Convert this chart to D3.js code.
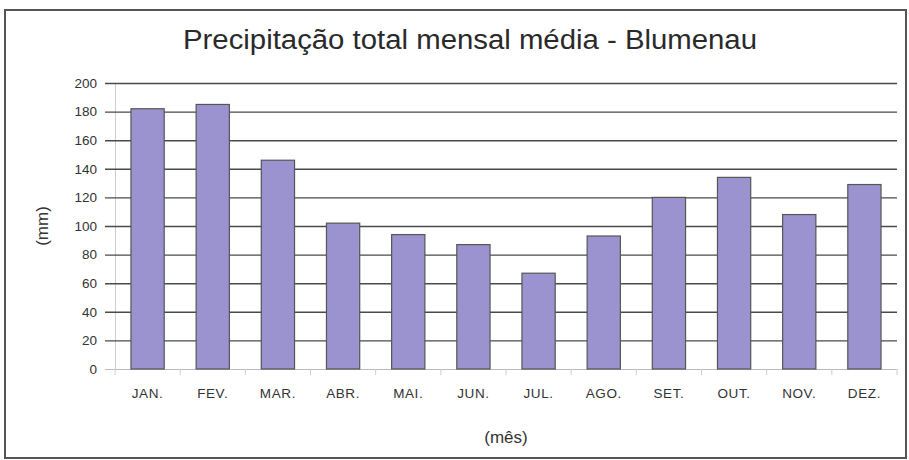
<!DOCTYPE html>
<html><head><meta charset="utf-8">
<script src="https://cdn.jsdelivr.net/npm/d3@7"></script>
<style>body{margin:0;background:#fff;} text{font-family:"Liberation Sans",Arial,sans-serif;}</style>
</head><body>
<svg id="c" width="909" height="460"></svg>
<script>
const title = "Precipitação total mensal média - Blumenau";
const months = ["JAN.","FEV.","MAR.","ABR.","MAI.","JUN.","JUL.","AGO.","SET.","OUT.","NOV.","DEZ."];
const precip = [182,185,146,102,94,87,67,93,120,134,108,129];
const yTicks = [0,20,40,60,80,100,120,140,160,180,200];
const yLabel = "(mm)";
const xLabel = "(mês)";

const svg = d3.select("#c");
const W = 909, H = 460;
const m = {left:115, right:12, top:83, bottom:91};
const x = d3.scaleBand().domain(months).range([m.left, W - m.right]).paddingInner(0.49).paddingOuter(0.245);
const y = d3.scaleLinear().domain([0,200]).range([H - m.bottom, m.top]);

// frame
svg.append("rect").attr("x",5).attr("y",10).attr("width",901).attr("height",448)
  .attr("fill","#fff").attr("stroke","#555").attr("stroke-width",2);

// title
svg.append("text").attr("x",470).attr("y",49).attr("text-anchor","middle")
  .attr("font-size",27).attr("fill","#2a2a2a").attr("textLength",574).attr("lengthAdjust","spacingAndGlyphs")
  .text(title);

// gridlines + y axis
const yAxis = d3.axisLeft(y).tickValues(yTicks).tickSize(-(W - m.right - m.left)).tickPadding(8);
const gy = svg.append("g").attr("transform",`translate(${m.left},0)`).call(yAxis);
gy.select(".domain").attr("stroke","#ccc");
gy.selectAll(".tick line").attr("stroke","#4a4a4a").attr("stroke-width",1.4).attr("x1",-10)
  .filter(d=>d===0).attr("stroke","#bbb").attr("stroke-width",1);
gy.selectAll(".tick text").attr("font-size",13.5).attr("fill","#333").attr("x",-18);

// x axis
const xb = d3.scaleLinear().domain([0,12]).range([m.left, W - m.right]);
const gx = svg.append("g").attr("transform",`translate(0,${y(0)})`);
gx.selectAll("line.bd").data(d3.range(0,13)).join("line").attr("class","bd")
  .attr("x1",d=>xb(d)).attr("x2",d=>xb(d)).attr("y1",0).attr("y2",6).attr("stroke","#ccc");
const xAxis = d3.axisBottom(x).tickSize(0).tickPadding(19);
const gxa = svg.append("g").attr("transform",`translate(0,${y(0)})`).call(xAxis);
gxa.select(".domain").remove();
gxa.selectAll(".tick text").attr("font-size",13.5).attr("fill","#333").attr("letter-spacing","0.6");

// bars
svg.append("g").selectAll("rect").data(precip).join("rect")
  .attr("x",(d,i)=>x(months[i])).attr("width",x.bandwidth())
  .attr("y",d=>y(d)).attr("height",d=>y(0)-y(d))
  .attr("fill","#9a93cf").attr("stroke","#555").attr("stroke-width",1.2);

// axis titles
svg.append("text").attr("transform",`translate(48,${(y(0)+y(200))/2}) rotate(-90)`)
  .attr("text-anchor","middle").attr("font-size",17).attr("fill","#333").text(yLabel);
svg.append("text").attr("x",(m.left + W - m.right)/2).attr("y",443).attr("text-anchor","middle")
  .attr("font-size",17).attr("fill","#333").text(xLabel);
</script>
</body></html>
